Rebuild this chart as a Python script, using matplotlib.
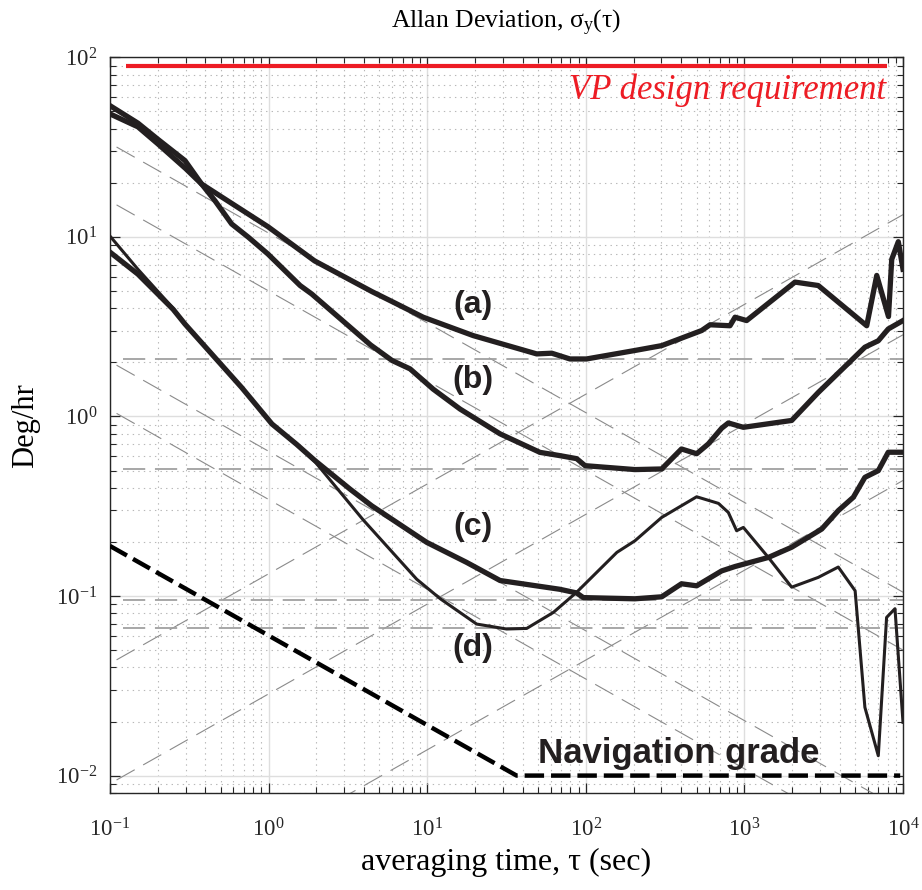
import numpy as np
import matplotlib
matplotlib.use("Agg")
import matplotlib.pyplot as plt
from matplotlib.ticker import LogLocator, NullFormatter

plt.rcParams['font.family'] = ['Liberation Serif', 'DejaVu Serif']
plt.rcParams['mathtext.fontset'] = 'stix'
plt.rcParams['axes.unicode_minus'] = False
plt.rcParams['lines.scale_dashes'] = False

# ---- measured Allan deviation curves (tau in s, sigma in deg/hr) ----
tau_a = [0.1, 0.15, 0.2, 0.3, 0.378, 0.5, 0.99, 1.95, 4.5, 6.11, 9.44, 19.5, 49, 61, 79.4,
         101, 204, 301, 538, 607, 811, 873, 1033, 2085, 2922, 5905, 6830, 8100, 8490, 9340, 10000]
sig_a = [48.4, 41, 33, 24, 19.7, 16.8, 11.4, 7.35, 4.95, 4.33, 3.57, 2.82, 2.23, 2.25, 2.09,
         2.09, 2.33, 2.48, 3.01, 3.24, 3.2, 3.57, 3.42, 5.6, 5.36, 3.2, 6.1, 3.6, 7.5, 9.4, 6.6]

tau_b = [0.1, 0.15, 0.2, 0.297, 0.378, 0.459, 0.585, 0.745, 0.99, 1.58, 1.87, 4.4, 6.0, 7.8,
         10.9, 16.1, 28.8, 51.4, 68.7, 87.6, 98.9, 204, 301, 401, 500, 592, 719, 792, 985,
         1987, 2922, 5750, 6985, 8070, 10000]
sig_b = [53.8, 43, 35, 26.6, 19.7, 15.9, 11.8, 9.96, 8.03, 5.36, 4.81, 2.5, 2.05, 1.84,
         1.42, 1.10, 0.80, 0.631, 0.605, 0.582, 0.532, 0.506, 0.51, 0.659, 0.62, 0.703, 0.86, 0.92, 0.87,
         0.95, 1.36, 2.43, 2.64, 3.07, 3.42]

tau_c = [0.1, 0.15, 0.25, 0.297, 0.676, 1.05, 1.5, 1.96, 3.26, 4.47, 9.93, 17.7, 28.8, 68.7,
         87.6, 96.4, 204, 301, 401, 500, 719, 873, 1416, 1987, 3072, 3908, 4864, 5750, 6985,
         8070, 10000]
sig_c = [8.22, 6.2, 3.95, 3.27, 1.45, 0.908, 0.70, 0.568, 0.394, 0.318, 0.199, 0.154, 0.122, 0.109,
         0.104, 0.098, 0.0965, 0.099, 0.117, 0.114, 0.138, 0.146, 0.164, 0.187, 0.236, 0.299, 0.355,
         0.458, 0.499, 0.632, 0.632]

tau_d = [0.1, 0.15, 0.25, 0.297, 0.676, 1.05, 1.5, 1.96, 3.94, 8.59, 12.1, 20.5, 31.7, 42.4,
         62.4, 87.6, 157, 204, 301, 500, 686, 792, 893, 985, 1416, 1987, 2922, 3908, 4990, 5750,
         6985, 7880, 8900, 10000]
sig_d = [10.1, 6.6, 4.0, 3.27, 1.45, 0.908, 0.70, 0.56, 0.266, 0.124, 0.0965, 0.0698, 0.0655, 0.066,
         0.081, 0.105, 0.175, 0.203, 0.274, 0.357, 0.328, 0.292, 0.231, 0.241, 0.164, 0.112, 0.127,
         0.145, 0.107, 0.024, 0.0129, 0.076, 0.085, 0.0198]

# ---- reference levels ----
nav_tau = [0.1, 36.6, 9600]
nav_sig = [0.19, 0.01, 0.01]
req_tau = [0.126, 7950]
req_sig = [89, 89]

# ---- noise-term fit lines ----
arw_coef = [10.5, 5.0, 0.64, 0.345]      # sigma = N / sqrt(tau)
bias_level = [2.1, 0.51, 0.095, 0.066]   # sigma = B
rrw_coef = [0.133, 0.0285, 0.0044]       # sigma = K * sqrt(tau)
fit_span = [0.11, 10000]
bias_span = [0.12, 10000]

fig = plt.figure(figsize=(9.22, 8.90), dpi=100)
ax = fig.add_axes([0.1193, 0.1090, 0.8601, 0.8266])
ax.set_xscale('log')
ax.set_yscale('log')
ax.set_xlim(0.1, 1e4)
ax.set_ylim(0.008, 100)

ax.grid(True, which='major', color='#dedede', linestyle='-', linewidth=1.0, zorder=0)
ax.grid(True, which='minor', color='#b8b8b8', linestyle=(0, (1, 3)), linewidth=0.8, zorder=0)
ax.set_axisbelow(True)

span = np.array(fit_span)
for n in arw_coef:
    ax.plot(span, n / np.sqrt(span), color='#8a8a8a', lw=0.8, dashes=(15, 7), zorder=1)
for k in rrw_coef:
    ax.plot(span, k * np.sqrt(span), color='#8a8a8a', lw=0.8, dashes=(15, 7), zorder=1)
for b in bias_level:
    ax.plot(bias_span, [b, b], color='#a0a0a0', lw=1.3, dashes=(16, 7), zorder=1)

ax.plot(req_tau, req_sig, color='#ED1C24', lw=3.0, solid_capstyle='butt', zorder=3)
ax.plot(nav_tau, nav_sig, color='black', lw=3.2, dashes=(14, 5), zorder=3)

curve_col = '#231f20'
ax.plot(tau_a, sig_a, color=curve_col, lw=3.8, zorder=4, solid_joinstyle='round')
ax.plot(tau_b, sig_b, color=curve_col, lw=3.8, zorder=4, solid_joinstyle='round')
ax.plot(tau_c, sig_c, color=curve_col, lw=3.8, zorder=4, solid_joinstyle='round')
ax.plot(tau_d, sig_d, color=curve_col, lw=2.2, zorder=4, solid_joinstyle='round')

lab_font = dict(family=['Liberation Sans', 'DejaVu Sans'], weight='bold', color='#231f20')
for txt, yy in [('(a)', 0.663), ('(b)', 0.561), ('(c)', 0.362), ('(d)', 0.197)]:
    ax.text(0.458, yy, txt, transform=ax.transAxes, ha='center', va='center',
            fontsize=23, zorder=5, **lab_font)
ax.text(0.540, 0.041, 'Navigation grade', transform=ax.transAxes, ha='left',
        va='baseline', fontsize=25, zorder=5, **lab_font)
ax.text(0.9786, 0.943, 'VP design requirement', transform=ax.transAxes, ha='right',
        va='baseline', fontsize=25, style='italic', color='#ED1C24', zorder=5)

ax.xaxis.set_major_locator(LogLocator(base=10, numticks=10))
ax.yaxis.set_major_locator(LogLocator(base=10, numticks=10))
ax.xaxis.set_minor_locator(LogLocator(base=10, subs=np.arange(2, 10), numticks=20))
ax.yaxis.set_minor_locator(LogLocator(base=10, subs=np.arange(2, 10), numticks=20))
ax.xaxis.set_minor_formatter(NullFormatter())
ax.yaxis.set_minor_formatter(NullFormatter())

ax.tick_params(which='both', direction='in', top=True, right=True, colors='#262626')
ax.tick_params(which='major', length=7, width=0.9, labelsize=16.5)
ax.tick_params(axis='y', which='major', pad=9)
ax.tick_params(axis='x', which='major', pad=18)
ax.tick_params(which='minor', length=4, width=0.8)
for s in ax.spines.values():
    s.set_color('#262626')
    s.set_linewidth(1.0)

ax.set_title(r'Allan Deviation, $\mathregular{\sigma_y(\tau)}$', fontsize=18.5, pad=21)
ax.set_xlabel('averaging time, τ (sec)', fontsize=23, labelpad=5)
ax.set_ylabel('Deg/hr', fontsize=22, labelpad=12)

fig.savefig('out.png', dpi=100)
